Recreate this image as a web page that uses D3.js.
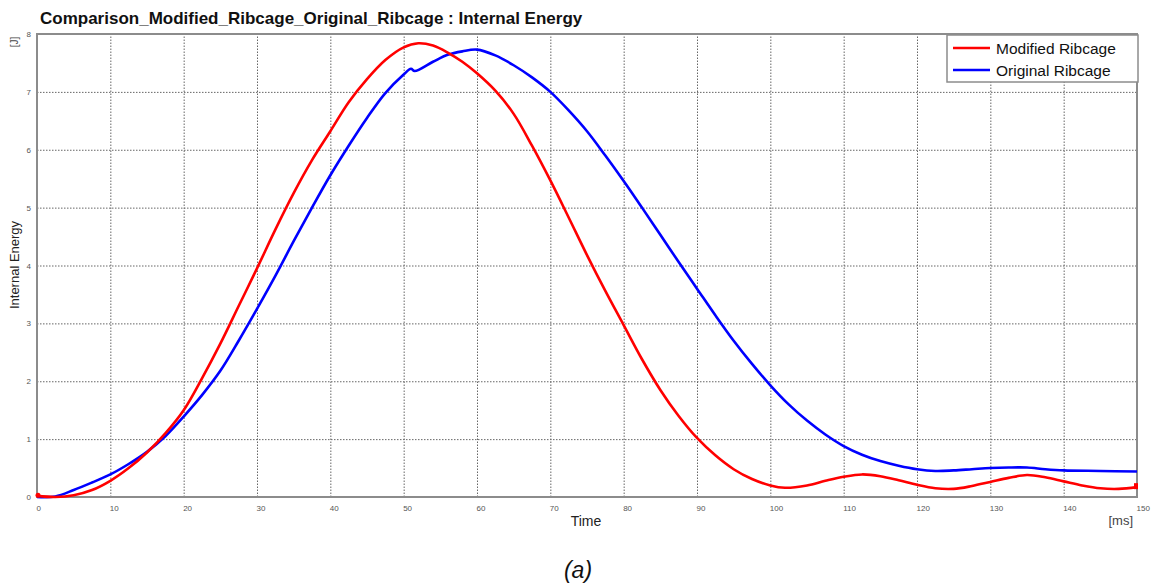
<!DOCTYPE html>
<html>
<head>
<meta charset="utf-8">
<script src="https://cdn.jsdelivr.net/npm/d3@7"></script>
<style>
  body { margin: 0; background: #fff; }
  svg { font-family: "Liberation Sans", Arial, sans-serif; }
</style>
</head>
<body>
<div id="chart"></div>
<script>
let width = 1156, height = 585
let margin = { top: 34, right: 19, bottom: 88, left: 37 }

// DATA
let timeModified = [0, 2.5, 5, 7.5, 10, 12.5, 15, 17.5, 20, 22.5, 25, 27.5, 30, 32.5, 35, 37.5, 40, 42.5, 45, 47.5,
  50, 52, 54, 56, 58, 60, 62.5, 65, 67.5, 70, 72.5, 75, 77.5, 80, 82.5, 85, 87.5, 90, 92.5, 95, 97.5,
  100, 102, 105, 107.5, 110, 112.5, 115, 117.5, 120, 122.5, 125, 127.5, 130, 132.5, 135, 137.5, 140, 142.5, 145, 147.5, 150]
let energyModified = [0.02, 0.0, 0.03, 0.12, 0.28, 0.5, 0.77, 1.1, 1.5, 2.05, 2.65, 3.3, 3.95, 4.62, 5.25, 5.82, 6.32, 6.82, 7.22, 7.55,
  7.77, 7.84, 7.8, 7.68, 7.52, 7.32, 7.02, 6.62, 6.07, 5.47, 4.83, 4.18, 3.56, 2.97, 2.38, 1.85, 1.4, 1.02, 0.72, 0.48, 0.31,
  0.2, 0.16, 0.2, 0.28, 0.35, 0.39, 0.36, 0.29, 0.21, 0.15, 0.14, 0.19, 0.26, 0.33, 0.38, 0.34, 0.27, 0.2, 0.15, 0.14, 0.17]

let timeOriginal = [0, 2.5, 5, 7.5, 10, 12.5, 15, 17.5, 20, 22.5, 25, 27.5, 30, 32.5, 35, 37.5, 40, 42.5, 45, 47.5,
  50, 51, 51.5, 54, 56, 58, 60, 62.5, 65, 67.5, 70, 72.5, 75, 77.5, 80, 82.5, 85, 87.5, 90, 92.5, 95, 97.5,
  100, 102.5, 105, 107.5, 110, 112.5, 115, 117.5, 120, 122.5, 125, 127.5, 130, 132.5, 135, 137.5, 140, 145, 150]
let energyOriginal = [0.0, 0.01, 0.12, 0.25, 0.39, 0.57, 0.78, 1.05, 1.39, 1.76, 2.18, 2.7, 3.25, 3.82, 4.42, 5.0, 5.56, 6.07, 6.55, 6.98,
  7.3, 7.4, 7.36, 7.52, 7.64, 7.7, 7.73, 7.63, 7.46, 7.25, 7.0, 6.68, 6.32, 5.9, 5.46, 5.0, 4.53, 4.06, 3.6, 3.14, 2.7, 2.3,
  1.93, 1.6, 1.32, 1.08, 0.88, 0.73, 0.62, 0.54, 0.48, 0.45, 0.46, 0.48, 0.5, 0.51, 0.51, 0.48, 0.46, 0.45, 0.44]

let xTicks = [0, 10, 20, 30, 40, 50, 60, 70, 80, 90, 100, 110, 120, 130, 140, 150]
let yTicks = [0, 1, 2, 3, 4, 5, 6, 7, 8]
let seriesNames = ['Modified Ribcage', 'Original Ribcage']
let seriesColors = ['#ff0000', '#0000ff']

let innerW = width - margin.left - margin.right
let innerH = height - margin.top - margin.bottom

let x = d3.scaleLinear().domain([0, 150]).range([0, innerW])
let y = d3.scaleLinear().domain([0, 8]).range([innerH, 0])

let svg = d3.select('#chart')
  .append('svg')
  .attr('width', width)
  .attr('height', height)

let g = svg.append('g')
  .attr('transform', 'translate(' + margin.left + ',' + margin.top + ')')

// GRID LINES
let gridX = g.append('g')
  .attr('transform', 'translate(0,' + innerH + ')')
  .call(d3.axisBottom(x).tickValues(xTicks).tickSize(-innerH).tickFormat(''))
let gridY = g.append('g')
  .call(d3.axisLeft(y).tickValues(yTicks).tickSize(-innerW).tickFormat(''))
gridX.selectAll('.domain').remove()
gridY.selectAll('.domain').remove()
g.selectAll('.tick line')
  .attr('stroke', '#666')
  .attr('stroke-width', 1)
  .attr('stroke-dasharray', '1.5,1.5')

// TICK LABELS
let xAxis = g.append('g')
  .attr('transform', 'translate(0,' + innerH + ')')
  .call(d3.axisBottom(x).tickValues(xTicks).tickSize(0).tickPadding(8))
let yAxis = g.append('g')
  .call(d3.axisLeft(y).tickValues(yTicks).tickSize(0).tickPadding(6))
xAxis.selectAll('.domain').remove()
yAxis.selectAll('.domain').remove()
xAxis.selectAll('text').style('text-anchor', 'start').attr('dx', -1)
g.selectAll('.tick text')
  .style('font-size', '8px')
  .style('font-family', '"Liberation Sans", Arial, sans-serif')
  .attr('fill', '#555')

// FRAME
g.append('rect')
  .attr('width', innerW)
  .attr('height', innerH)
  .attr('fill', 'none')
  .attr('stroke', '#8c8c8c')
  .attr('stroke-width', 2)

// LINES
let line = d3.line()
  .x(d => x(d[0]))
  .y(d => y(d[1]))
  .curve(d3.curveCatmullRom.alpha(0.5))

let seriesData = [
  d3.zip(timeModified, energyModified),
  d3.zip(timeOriginal, energyOriginal)
]

// original drawn first so modified sits above it
g.append('path')
  .datum(seriesData[1])
  .attr('d', line)
  .attr('fill', 'none')
  .attr('stroke', seriesColors[1])
  .attr('stroke-width', 2.6)
g.append('path')
  .datum(seriesData[0])
  .attr('d', line)
  .attr('fill', 'none')
  .attr('stroke', seriesColors[0])
  .attr('stroke-width', 2.6)

// end markers
g.append('rect')
  .attr('x', x(150) - 3)
  .attr('y', y(energyModified[energyModified.length - 1]) - 4)
  .attr('width', 4).attr('height', 6)
  .attr('fill', seriesColors[0])
g.append('circle')
  .attr('cx', x(0) + 1)
  .attr('cy', y(0.03))
  .attr('r', 2.5)
  .attr('fill', seriesColors[0])

// LEGEND
let legend = svg.append('g')
  .attr('transform', 'translate(947,35)')
legend.append('rect')
  .attr('width', 191)
  .attr('height', 47)
  .attr('fill', '#fff')
  .attr('stroke', '#8c8c8c')
  .attr('stroke-width', 1.5)
seriesNames.forEach(function (name, i) {
  legend.append('line')
    .attr('x1', 6).attr('x2', 43)
    .attr('y1', 13 + i * 22).attr('y2', 13 + i * 22)
    .attr('stroke', seriesColors[i])
    .attr('stroke-width', 2.6)
  legend.append('text')
    .attr('x', 49)
    .attr('y', 13 + i * 22)
    .attr('dy', '0.36em')
    .text(name)
    .style('font-size', '15.5px')
    .attr('fill', '#111')
})

// TITLES
svg.append('text')
  .attr('x', 40)
  .attr('y', 24)
  .text('Comparison_Modified_Ribcage_Original_Ribcage : Internal Energy')
  .style('font-size', '17px')
  .style('font-weight', 'bold')
  .attr('fill', '#111')

svg.append('text')
  .attr('transform', 'translate(19,265) rotate(-90)')
  .style('text-anchor', 'middle')
  .text('Internal Energy')
  .style('font-size', '13px')
  .attr('fill', '#222')

svg.append('text')
  .attr('transform', 'translate(18,42) rotate(-90)')
  .style('text-anchor', 'middle')
  .text('[J]')
  .style('font-size', '10px')
  .attr('fill', '#444')

svg.append('text')
  .attr('x', 586)
  .attr('y', 526)
  .style('text-anchor', 'middle')
  .text('Time')
  .style('font-size', '14px')
  .attr('fill', '#222')

svg.append('text')
  .attr('x', 1133)
  .attr('y', 525)
  .style('text-anchor', 'end')
  .text('[ms]')
  .style('font-size', '13px')
  .attr('fill', '#444')

svg.append('text')
  .attr('x', 578)
  .attr('y', 578)
  .style('text-anchor', 'middle')
  .text('(a)')
  .style('font-size', '23px')
  .style('font-style', 'italic')
  .attr('fill', '#111')
</script>
</body>
</html>
